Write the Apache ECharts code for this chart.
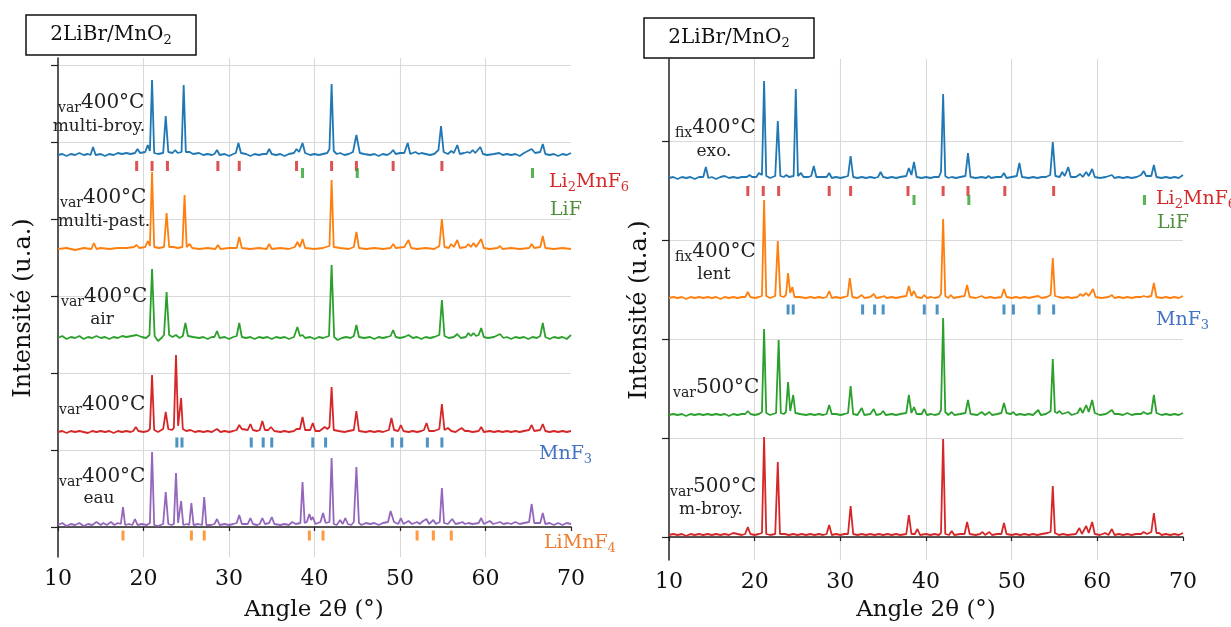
<!DOCTYPE html>
<html>
<head>
<meta charset="utf-8">
<script src="https://cdn.jsdelivr.net/npm/echarts@6/dist/echarts.min.js"></script>
<style>html,body{margin:0;padding:0;background:#fff}#c{width:1231px;height:627px}</style>
</head>
<body>
<div id="c"></div>
<script>
// ---------------- DATA ----------------
// x: angle 2θ (°), y: intensity (a.u.) relative to each pattern's own baseline
const xTicks = [10, 20, 30, 40, 50, 60, 70];
const leftYTicks = [0, 77, 154, 231, 308, 385, 462];
const rightYTicks = [0, 99, 198, 297, 396];

// Left panel patterns
const var400_multiBroy = [[10,0],[10.5,1],[11,-1],[11.5,1],[12,0],[12.5,2],[13,0],[13.5,1],[13.8,0],[14.1,8],[14.4,0],[15,1],[15.5,-1],[16,1],[16.5,0],[17,2],[17.5,1],[18,2],[18.5,1],[19,2],[19.3,6],[19.6,2],[20.2,3],[20.5,10],[20.75,4],[21.0,75],[21.25,2],[21.7,1],[22.3,2],[22.6,39],[22.9,3],[23.4,2],[23.7,5],[24.0,2],[24.45,3],[24.7,70],[24.95,3],[25.4,3],[25.8,1],[26.5,2],[27,0],[27.5,1],[28,0],[28.3,1],[28.6,5],[28.9,0],[29.5,1],[30,-1],[30.5,1],[30.8,2],[31.1,12],[31.4,2],[32,1],[32.5,-1],[33,1],[33.5,0],[34,1],[34.4,1],[34.7,6],[35,1],[35.5,0],[36,1],[36.5,-1],[37,1],[37.6,2],[37.9,6],[38.2,3],[38.6,12],[38.9,2],[39.5,0],[40,1],[40.5,0],[41,1],[41.5,2],[41.75,6],[42.0,71],[42.25,4],[42.6,1],[43,2],[43.5,0],[44,1],[44.5,3],[44.9,20],[45.3,2],[45.8,1],[46.5,0],[47,1],[47.5,-1],[48,1],[48.5,0],[48.9,2],[49.2,5],[49.5,1],[50,2],[50.5,2],[50.9,12],[51.2,1],[51.8,3],[52.2,1],[52.5,2],[53,1],[53.5,0],[54,1],[54.5,5],[54.8,29],[55.1,3],[55.6,1],[56.0,4],[56.3,2],[56.7,10],[57,1],[57.5,2],[57.9,3],[58.2,2],[58.5,5],[58.8,2],[59.4,8],[59.7,1],[60.2,0],[61,1],[61.6,2],[62,0],[62.5,1],[63,0],[63.5,1],[64,-1],[64.5,2],[65.4,6],[65.8,2],[66.4,3],[66.7,11],[67,1],[67.5,0],[68,1],[68.5,-1],[69,1],[69.5,0],[70,2]];
const var400_multiPast = [[10,0],[11,1],[12,-1],[13,1],[13.9,0],[14.2,6],[14.5,0],[15,1],[16,0],[17,1],[18,1],[18.9,2],[19.2,4],[19.5,1],[20.2,2],[20.5,8],[20.75,3],[21.0,77],[21.25,2],[21.8,1],[22.4,2],[22.7,36],[23.0,2],[23.5,2],[24.0,1],[24.55,2],[24.8,54],[25.05,2],[25.4,5],[25.7,1],[26.5,0],[27.5,1],[28.4,0],[28.7,4],[29,0],[30,1],[30.9,1],[31.2,12],[31.5,1],[32.5,0],[33.5,1],[34.4,0],[34.7,5],[35,0],[36,1],[37,0],[37.7,2],[38.0,7],[38.3,2],[38.6,10],[38.9,1],[40,0],[41,1],[41.75,3],[42.0,69],[42.25,2],[43,1],[44,0],[44.6,2],[44.9,17],[45.2,1],[46,0],[47,1],[48,0],[48.9,1],[49.2,5],[49.5,1],[50.5,2],[51.0,9],[51.3,1],[52,0],[53,1],[54,0],[54.6,3],[54.9,30],[55.2,2],[55.7,1],[56.0,5],[56.3,2],[56.7,9],[57,1],[57.7,2],[58.0,5],[58.3,2],[58.6,6],[58.9,2],[59.5,10],[59.8,1],[60.5,0],[61.4,1],[61.7,3],[62,0],[63,1],[64,0],[65.1,1],[65.4,5],[65.7,1],[66.4,2],[66.7,13],[67,1],[68,0],[69,1],[70,0]];
const var400_air = [[10,0],[10.5,2],[11,-1],[11.5,1],[12,0],[12.5,2],[13,-1],[13.5,1],[14,0],[14.5,2],[15,0],[15.5,1],[16,-1],[16.5,1],[17,0],[17.5,2],[18,1],[18.6,2],[19.2,3],[19.8,1],[20.3,0],[20.7,3],[21.0,69],[21.3,2],[21.7,-3],[22.1,0],[22.4,3],[22.7,46],[23.0,3],[23.4,1],[23.8,3],[24.2,0],[24.6,2],[24.9,15],[25.2,2],[25.8,1],[26.5,0],[27,1],[27.5,-1],[28,1],[28.3,1],[28.6,7],[28.9,0],[29.5,1],[30,-1],[30.5,1],[30.9,2],[31.2,15],[31.5,1],[32,0],[32.5,1],[33,-1],[33.5,1],[34,0],[34.5,1],[35,-1],[35.5,1],[36,0],[36.5,1],[37,-1],[37.6,1],[38.0,11],[38.3,2],[38.6,3],[38.9,0],[39.5,1],[40,-1],[40.5,1],[41,0],[41.7,2],[42.0,73],[42.3,1],[42.7,-2],[43.2,0],[43.7,1],[44.2,0],[44.6,2],[44.9,13],[45.2,1],[45.8,0],[46.5,1],[47,-1],[47.5,1],[48,0],[48.5,1],[48.9,2],[49.2,8],[49.5,1],[50,0],[50.5,1],[51.0,3],[51.5,0],[52,1],[52.5,-1],[53,1],[53.5,0],[54,1],[54.6,3],[54.9,38],[55.2,2],[55.7,0],[56.3,1],[56.7,4],[57.1,0],[57.7,1],[58.0,5],[58.3,2],[58.6,5],[58.9,2],[59.2,3],[59.5,10],[59.8,1],[60.3,0],[61,1],[61.7,4],[62.1,0],[62.5,1],[63,-1],[63.5,1],[64,0],[64.5,1],[65,-1],[65.5,1],[66,0],[66.4,2],[66.7,15],[67,1],[67.5,-1],[68,1],[68.5,0],[69,1],[69.5,-1],[70,3]];
const var400_plain = [[10,0],[10.5,1],[11,-1],[11.5,1],[12,0],[12.5,1],[13,0],[13.5,-1],[14,1],[14.5,0],[15,1],[15.5,0],[16,1],[16.5,-1],[17,1],[17.5,0],[18,1],[18.5,0],[18.8,1],[19.1,5],[19.4,1],[20,0],[20.5,1],[20.75,3],[21.0,57],[21.25,2],[21.7,0],[22.3,3],[22.6,20],[22.9,3],[23.3,2],[23.55,4],[23.8,77],[24.05,6],[24.2,8],[24.4,34],[24.6,3],[25,1],[25.5,2],[26,0],[26.5,1],[27,0],[27.5,1],[28,0],[28.6,3],[29,0],[29.5,1],[30,0],[30.5,1],[30.9,2],[31.2,7],[31.5,3],[32.2,2],[32.5,8],[32.8,2],[33.3,1],[33.6,2],[33.9,11],[34.2,2],[34.6,2],[34.9,5],[35.3,1],[36,0],[36.5,1],[37,0],[37.6,1],[37.9,3],[38.3,3],[38.6,15],[38.9,2],[39.5,2],[39.8,9],[40.1,1],[40.6,1],[41.2,5],[41.5,3],[41.75,5],[42.0,45],[42.25,2],[42.8,1],[43.5,0],[44,1],[44.6,2],[44.9,21],[45.2,1],[46,0],[46.5,1],[47,0],[47.5,1],[48,0],[48.7,2],[49.0,14],[49.3,2],[49.8,1],[50.1,7],[50.4,1],[51,0],[51.5,1],[52,0],[52.5,1],[52.8,2],[53.1,9],[53.4,1],[54,1],[54.6,3],[54.9,28],[55.2,2],[55.6,4],[56,1],[56.5,0],[57.2,4],[57.6,1],[58,1],[58.5,0],[59.2,1],[59.5,5],[59.8,0],[60.5,1],[61,0],[61.5,1],[62,0],[62.5,1],[63,0],[63.5,1],[64,0],[64.5,1],[65.1,2],[65.4,7],[65.7,1],[66.4,2],[66.7,8],[67,1],[67.5,0],[68,1],[68.5,0],[69,1],[69.5,0],[70,1]];
const var400_eau = [[10,3],[10.5,5],[11,2],[11.5,4],[12,3],[12.5,5],[13,2],[13.5,4],[14,3],[14.5,6],[15,3],[15.3,5],[15.7,3],[16.2,6],[16.6,3],[17,5],[17.35,4],[17.6,21],[17.85,3],[18.3,4],[18.7,3],[19.0,9],[19.3,3],[19.8,4],[20.4,3],[20.75,5],[21.0,76],[21.25,3],[21.7,2],[22.3,4],[22.6,36],[22.9,4],[23.3,3],[23.55,4],[23.8,55],[24.05,5],[24.2,6],[24.4,27],[24.65,3],[25.1,4],[25.35,3],[25.6,25],[25.85,3],[26.4,4],[26.85,3],[27.1,31],[27.35,3],[27.9,3],[28.3,4],[28.6,9],[28.9,3],[29.5,4],[30,3],[30.5,4],[30.9,5],[31.2,13],[31.5,4],[32.2,4],[32.5,10],[32.8,4],[33.3,3],[33.6,4],[33.9,10],[34.2,4],[34.7,5],[35.0,11],[35.3,4],[36,3],[36.5,4],[37,3],[37.4,6],[37.8,4],[38.35,5],[38.6,46],[38.85,5],[39.1,6],[39.4,14],[39.6,8],[39.8,11],[40.1,4],[40.7,6],[41.0,15],[41.3,5],[41.75,6],[42.0,70],[42.25,4],[42.6,3],[43.0,8],[43.3,4],[43.6,10],[43.9,4],[44.3,3],[44.6,6],[44.9,61],[45.2,5],[45.5,3],[46,5],[46.5,4],[47,5],[47.5,3],[48,5],[48.6,6],[48.9,17],[49.3,6],[49.8,4],[50.1,10],[50.4,4],[51.0,7],[51.4,4],[52.0,6],[52.3,4],[52.7,7],[52.9,5],[53.1,9],[53.4,4],[53.9,8],[54.2,4],[54.65,6],[54.9,40],[55.15,5],[55.6,4],[56.1,9],[56.5,4],[57.0,5],[57.3,6],[57.6,4],[58,5],[58.5,4],[59.2,5],[59.5,10],[59.8,4],[60.5,7],[60.9,4],[61.3,5],[61.7,6],[62.1,4],[62.6,5],[63,4],[63.5,6],[64,4],[64.5,5],[65.1,6],[65.4,24],[65.7,5],[66.4,5],[66.7,15],[67,4],[67.5,5],[68,3],[68.5,5],[69,3],[69.5,5],[70,4]];

// Right panel patterns
const fix400_exo = [[10,0],[10.5,1],[11,-1],[11.5,1],[12,0],[12.5,1],[13,-1],[13.5,1],[14,1],[14.3,11],[14.6,0],[15,1],[15.5,-1],[16,1],[16.5,2],[17,0],[17.5,1],[18,0],[18.5,1],[19.1,1],[19.4,3],[19.7,1],[20.2,1],[20.5,5],[20.85,3],[21.1,97],[21.35,2],[21.8,0],[22.4,2],[22.7,57],[23,2],[23.4,1],[23.7,3],[24.0,1],[24.55,2],[24.8,89],[25.05,2],[25.4,5],[25.7,1],[26.3,1],[26.6,2],[26.9,12],[27.2,1],[28,1],[28.4,1],[28.7,5],[29,0],[29.5,1],[30,0],[30.5,1],[30.9,2],[31.2,22],[31.5,1],[32,0],[32.5,1],[33,0],[33.5,1],[34,0],[34.4,1],[34.7,6],[35,1],[35.5,0],[36,1],[36.5,0],[37,1],[37.7,2],[38.0,10],[38.3,3],[38.6,16],[38.9,1],[39.5,0],[40,1],[40.5,0],[41,1],[41.5,1],[41.75,6],[42.0,84],[42.25,2],[42.6,0],[43,1],[43.5,0],[44,1],[44.6,2],[44.9,25],[45.2,1],[45.8,0],[46.5,1],[47,0],[47.3,2],[47.6,0],[48.2,1],[48.8,1],[49.1,5],[49.4,0],[50,1],[50.6,2],[50.9,15],[51.2,1],[52,0],[52.5,1],[53,0],[53.5,1],[54,1],[54.5,3],[54.8,36],[55.1,2],[55.6,1],[55.9,6],[56.2,2],[56.6,11],[56.9,1],[57.5,1],[58.0,4],[58.3,1],[58.7,6],[59,2],[59.4,9],[59.7,1],[60.3,0],[61,1],[61.7,3],[62,0],[62.5,1],[63,0],[63.5,1],[64,0],[64.6,1],[65.1,3],[65.4,7],[65.7,2],[66.3,2],[66.6,13],[66.9,1],[67.5,0],[68,1],[68.5,0],[69,1],[69.5,0],[70,3]];
const fix400_lent = [[10,0],[10.5,1],[11,0],[11.5,1],[12,-1],[12.5,1],[13,0],[13.5,1],[14,0],[14.5,1],[15,0],[15.5,1],[16,-1],[16.5,1],[17,0],[17.5,1],[18,0],[18.5,1],[18.9,1],[19.2,6],[19.5,1],[20,0],[20.5,1],[20.85,2],[21.1,98],[21.35,2],[21.8,0],[22.4,2],[22.7,57],[23.0,2],[23.4,1],[23.65,3],[23.9,25],[24.15,5],[24.4,11],[24.65,1],[25.2,1],[26,0],[26.5,1],[27,0],[27.5,1],[28,0],[28.4,1],[28.7,7],[29,0],[29.5,1],[30,0],[30.5,1],[30.85,2],[31.1,20],[31.4,1],[32,0],[32.5,3],[32.8,0],[33.5,1],[33.9,4],[34.2,0],[34.8,1],[35.1,2],[35.4,0],[36,1],[36.5,0],[37,1],[37.7,2],[38.0,12],[38.3,2],[38.6,7],[38.9,1],[39.5,0],[39.8,3],[40.1,0],[40.6,1],[41,0],[41.5,1],[41.75,4],[42.0,79],[42.25,2],[42.6,0],[42.9,3],[43.2,0],[43.8,1],[44.5,2],[44.8,13],[45.1,1],[45.8,0],[46.5,2],[46.9,0],[47.5,1],[48,0],[48.8,1],[49.1,9],[49.4,1],[50,0],[50.5,1],[51,0],[51.5,1],[52,0],[52.5,1],[53.1,2],[53.5,0],[54.1,1],[54.55,3],[54.8,40],[55.05,2],[55.5,1],[56,0],[56.5,1],[57,0],[57.7,1],[58.0,4],[58.3,2],[58.7,5],[59,2],[59.5,9],[59.8,1],[60.5,0],[61.3,1],[61.7,3],[62,0],[62.5,1],[63,0],[63.5,1],[64,0],[64.5,1],[65.1,1],[65.4,2],[65.8,1],[66.3,2],[66.6,15],[66.9,1],[67.5,0],[68,1],[68.5,0],[69,1],[69.5,0],[70,2]];
const var500_plain = [[10,0],[10.5,1],[11,0],[11.5,1],[12,-1],[12.5,1],[13,0],[13.5,1],[14,0],[14.5,1],[15,0],[15.5,1],[16,0],[16.5,1],[17,-1],[17.5,1],[18,0],[18.5,1],[18.9,1],[19.2,4],[19.5,1],[20,0],[20.5,1],[20.85,3],[21.1,86],[21.35,2],[21.8,0],[22.5,2],[22.8,75],[23.05,2],[23.4,1],[23.65,3],[23.9,33],[24.15,4],[24.3,6],[24.5,20],[24.75,2],[25.3,1],[26,0],[26.5,1],[27,0],[27.5,1],[28,0],[28.4,1],[28.7,10],[29,1],[29.5,1],[30,0],[30.5,1],[30.9,2],[31.2,29],[31.5,1],[32,0],[32.2,1],[32.5,7],[32.8,0],[33.5,1],[33.9,6],[34.2,0],[34.7,1],[35.0,4],[35.3,0],[36,1],[36.5,0],[37,1],[37.7,2],[38.0,20],[38.3,2],[38.6,8],[38.9,1],[39.5,1],[39.8,6],[40.1,0],[40.6,1],[41,0],[41.5,1],[41.75,5],[42.0,97],[42.25,3],[42.6,0],[43.0,3],[43.3,0],[44,1],[44.6,2],[44.9,15],[45.2,1],[46,0],[46.5,3],[46.9,0],[47.4,3],[47.7,0],[48.3,1],[48.8,2],[49.1,12],[49.4,2],[49.9,1],[50.2,3],[50.5,0],[51,1],[51.5,0],[52,1],[52.5,0],[53.1,5],[53.4,0],[54,1],[54.55,4],[54.8,56],[55.05,3],[55.3,2],[55.6,4],[55.9,1],[56.6,3],[57,0],[57.7,2],[58.0,7],[58.3,2],[58.7,10],[59.0,3],[59.4,15],[59.7,2],[60.3,0],[61,1],[61.7,5],[62,1],[62.5,1],[63,0],[63.5,2],[64,0],[64.5,1],[65.1,1],[65.4,3],[65.8,1],[66.3,2],[66.6,20],[66.9,2],[67.5,0],[68,1],[68.5,0],[69,1],[69.5,0],[70,2]];
const var500_mBroy = [[10,0],[10.5,1],[11,0],[11.5,1],[12,-1],[12.5,1],[13,0],[13.5,1],[14,0],[14.5,1],[15,0],[15.5,1],[16,0],[16.5,1],[17,0],[17.5,2],[18,1],[18.5,0],[18.9,1],[19.2,8],[19.5,1],[20,0],[20.5,1],[20.85,2],[21.1,98],[21.35,1],[21.8,0],[22.4,1],[22.7,73],[22.95,1],[23.5,1],[24,0],[24.5,1],[25,0],[25.5,1],[26,0],[26.5,1],[27,0],[27.5,1],[28,0],[28.4,1],[28.7,10],[29,0],[29.5,1],[30,0],[30.5,1],[30.9,1],[31.2,29],[31.5,1],[32,0],[32.5,1],[33,0],[33.5,1],[34,0],[34.5,1],[35,0],[35.5,1],[36,0],[36.5,1],[37,0],[37.7,1],[38.0,20],[38.3,1],[38.7,1],[39.0,6],[39.3,0],[40,1],[40.5,0],[41,1],[41.5,0],[41.75,2],[42.0,96],[42.25,1],[42.7,0],[43.0,4],[43.3,0],[44,1],[44.5,1],[44.8,13],[45.1,1],[45.8,0],[46.3,1],[46.6,3],[46.9,0],[47.4,3],[47.7,0],[48.3,1],[48.8,1],[49.1,12],[49.4,1],[50,0],[50.5,1],[51,0],[51.5,1],[52,0],[52.5,1],[53,0],[53.5,1],[54.2,2],[54.55,3],[54.8,49],[55.05,2],[55.5,0],[56,1],[56.5,0],[57.5,1],[57.9,7],[58.2,1],[58.7,9],[59,2],[59.4,13],[59.7,1],[60.3,0],[60.9,2],[61.3,0],[61.7,6],[62,0],[62.5,1],[63,0],[63.5,1],[64,0],[64.5,1],[65.1,1],[65.4,3],[65.8,1],[66.3,3],[66.6,22],[66.9,2],[67.2,2],[67.5,0],[68,1],[68.5,0],[69,1],[69.5,0],[70,2]];

// Reference reflection positions (2θ, °)
const refLi2MnF6 = [19.2, 21.0, 22.8, 28.7, 31.2, 37.9, 42.0, 44.9, 49.2, 54.9];
const refLiF = [38.6, 45.0, 65.5];
const refMnF3 = [23.9, 24.5, 32.6, 34.0, 35.0, 39.8, 41.3, 49.1, 50.2, 53.2, 54.9];
const refLiMnF4 = [17.6, 25.6, 27.1, 39.4, 41.0, 52.0, 53.9, 56.0];

// ---------------- CHART ----------------
const C = {blue:'#1f77b4', orange:'#ff7f0e', green:'#2ca02c', red:'#d62728', purple:'#9467bd'};
const F = 'DejaVu Serif';
const chart = echarts.init(document.getElementById('c'), null, {renderer:'canvas'});

function lineSeries(data, offset, color, idx) {
  return {type:'line', xAxisIndex:idx, yAxisIndex:idx, showSymbol:false, symbol:'none',
    lineStyle:{color:color, width:1.8}, itemStyle:{color:color}, z:3, silent:true,
    data: data.map(p => [p[0], p[1] + offset])};
}
function refSeries(pos, level, color, idx) {
  return {type:'scatter', xAxisIndex:idx, yAxisIndex:idx, symbol:'rect', symbolSize:[3,10],
    itemStyle:{color:color}, z:4, silent:true, data: pos.map(a => [a, level])};
}
function xAx(idx) {
  return {type:'value', gridIndex:idx, min:10, max:70, interval:10,
    axisLine:{lineStyle:{color:'#222', width:1.5}},
    axisTick:{show:true, length:4, lineStyle:{color:'#222', width:1.2}},
    axisLabel:{fontFamily:F, fontSize:22, color:'#111', margin:11},
    splitLine:{show:true, showMinLine:false, showMaxLine:false, lineStyle:{color:'#d9d9d9', width:1.1}}};
}
function yAx(idx, min, max, ticks) {
  return {type:'value', gridIndex:idx, min:min, max:max,
    axisLine:{show:true, lineStyle:{color:'#222', width:1.5}},
    axisTick:{show:true, length:7, customValues:ticks, lineStyle:{color:'#222', width:1.2}},
    axisLabel:{show:false},
    splitLine:{show:true, lineStyle:{color:'#d9d9d9', width:1.1}}};
}

const subRich = (size, sub, color) => ({
  m:{fontFamily:F, fontSize:size, fill:color, color:color, lineHeight:size+5},
  s:{fontFamily:F, fontSize:sub, fill:color, color:color, lineHeight:sub-1, verticalAlign:'bottom'}
});
function richText(x, y, text, size, sub, color, align) {
  return {type:'text', x:x, y:y, z:100, silent:true,
    style:{text:text, rich:subRich(size, sub, color), fill:color, align:align||'left', verticalAlign:'middle',
      textAlign:align||'left', textVerticalAlign:'middle'}};
}
function plainText(x, y, text, size, color, align, rot) {
  return {type:'text', x:x, y:y, z:100, silent:true, rotation:rot||0,
    style:{text:text, fontFamily:F, fontSize:size, fill:color, align:align||'center', verticalAlign:'middle',
      textAlign:align||'center', textVerticalAlign:'middle'}};
}

const dark = '#222';
const graphics = [
  // title boxes
  {type:'rect', shape:{x:26, y:15, width:170, height:40}, style:{fill:'#fff', stroke:'#111', lineWidth:1.5}, z:90},
  {type:'rect', shape:{x:644, y:18, width:170, height:40}, style:{fill:'#fff', stroke:'#111', lineWidth:1.5}, z:90},
  richText(111, 35, '{m|2LiBr/MnO}{s|2}', 20, 13, '#111', 'center'),
  richText(729, 38, '{m|2LiBr/MnO}{s|2}', 20, 13, '#111', 'center'),
  // axis titles
  plainText(24, 308, 'Intensité (u.a.)', 24, '#111', 'center', Math.PI/2),
  plainText(640, 310, 'Intensité (u.a.)', 24, '#111', 'center', Math.PI/2),
  plainText(314, 610, 'Angle 2θ (°)', 23, '#111', 'center'),
  plainText(926, 610, 'Angle 2θ (°)', 23, '#111', 'center'),
  // left panel labels
  richText(58, 103, '{s|var}{m|400°C}', 20, 14, dark),
  plainText(99, 127, 'multi-broy.', 17, dark),
  richText(60, 198, '{s|var}{m|400°C}', 20, 14, dark),
  plainText(104, 222, 'multi-past.', 17, dark),
  richText(61, 297, '{s|var}{m|400°C}', 20, 14, dark),
  plainText(102, 320, 'air', 17, dark),
  richText(59, 405, '{s|var}{m|400°C}', 20, 14, dark),
  richText(59, 477, '{s|var}{m|400°C}', 20, 14, dark),
  plainText(99, 499, 'eau', 17, dark),
  // left phase labels
  richText(549, 182, '{m|Li}{s|2}{m|MnF}{s|6}', 19, 13, '#d42a2a'),
  richText(550, 210, '{m|LiF}', 19, 13, '#4e8f3a'),
  richText(539, 454, '{m|MnF}{s|3}', 19, 13, '#4472c4'),
  richText(544, 543, '{m|LiMnF}{s|4}', 19, 13, '#ed7d31'),
  // right panel labels
  richText(675, 128, '{s|fix}{m|400°C}', 20, 14, dark),
  plainText(714, 152, 'exo.', 17, dark),
  richText(675, 252, '{s|fix}{m|400°C}', 20, 14, dark),
  plainText(714, 275, 'lent', 17, dark),
  richText(673, 388, '{s|var}{m|500°C}', 20, 14, dark),
  richText(670, 487, '{s|var}{m|500°C}', 20, 14, dark),
  plainText(711, 510, 'm-broy.', 17, dark),
  // right phase labels
  richText(1156, 199, '{m|Li}{s|2}{m|MnF}{s|6}', 19, 13, '#d42a2a'),
  richText(1157, 223, '{m|LiF}', 19, 13, '#4e8f3a'),
  richText(1156, 320, '{m|MnF}{s|3}', 19, 13, '#4472c4')
];

const option = {
  animation:false,
  backgroundColor:'#fff',
  grid:[
    {left:58, top:58, width:513, height:499},
    {left:669, top:59, width:514, height:501}
  ],
  xAxis:[xAx(0), xAx(1)],
  yAxis:[yAx(0, -30, 469, leftYTicks), yAx(1, -23, 478, rightYTicks)],
  series:[
    lineSeries(var400_multiBroy, 372, C.blue, 0),
    lineSeries(var400_multiPast, 278, C.orange, 0),
    lineSeries(var400_air, 189, C.green, 0),
    lineSeries(var400_plain, 95, C.red, 0),
    lineSeries(var400_eau, -1, C.purple, 0),
    refSeries(refLi2MnF6, 361, C.red, 0),
    refSeries(refLiF, 354, C.green, 0),
    refSeries(refMnF3, 84.5, C.blue, 0),
    refSeries(refLiMnF4, -8.5, C.orange, 0),
    lineSeries(fix400_exo, 359, C.blue, 1),
    lineSeries(fix400_lent, 239, C.orange, 1),
    lineSeries(var500_plain, 122, C.green, 1),
    lineSeries(var500_mBroy, 2, C.red, 1),
    refSeries(refLi2MnF6, 346, C.red, 1),
    refSeries(refLiF, 337, C.green, 1),
    refSeries(refMnF3, 227.5, C.blue, 1)
  ],
  graphic: graphics
};
chart.setOption(option);
</script>
</body>
</html>
